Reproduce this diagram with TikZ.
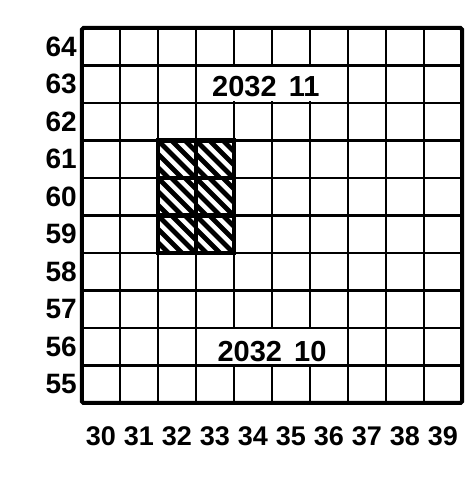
\documentclass[tikz,border=0pt]{standalone}
\usepackage{fontspec}
\setmainfont{Liberation Sans}
\usepackage{tikz}
\usetikzlibrary{calc}
\tikzset{
  gline/.style={draw=black,line width=2.6pt},
  gframe/.style={draw=black,line width=4pt,rounded corners=1.5pt},
  gblock/.style={draw=black,line width=4.4pt},
  hatch/.style={draw=black,line width=4.6pt},
  gblank/.style={fill=white,draw=none},
  rlabel/.style={anchor=east,inner sep=0pt,font=\bfseries\fontsize{28}{28}\selectfont},
  clabel/.style={inner sep=0pt,font=\bfseries\fontsize{27}{27}\selectfont},
  gnote/.style={inner sep=0pt,font=\bfseries\fontsize{29}{29}\selectfont}
}

\begin{document}
\begin{tikzpicture}[x=38pt,y=37.5pt]
  \useasboundingbox (-82pt,-80pt) rectangle (387pt,403pt);
  % hatched squares 32-33 / 59-61
  \foreach \c in {2,3}
    \foreach \r in {4,5,6} {
      \begin{scope}
        \clip ($(\c,\r)+(2pt,2pt)$) rectangle ($(\c+1,\r+1)-(2pt,2pt)$);
        \foreach \k in {-4,...,4}
          \draw[hatch] ($(\c,\r+1)+(\k*13.5pt,0)$) -- ++(45pt,-45pt);
      \end{scope}
    }
  % grid
  \foreach \i in {1,...,9} {
    \draw[gline] (\i,0) -- (\i,10);
    \draw[gline] (0,\i) -- (10,\i);
  }
  % strips for the two sheet numbers
  \fill[gblank] ($(3,8)+(1.5pt,1.5pt)$) rectangle ($(7,9)-(1.5pt,1.5pt)$);
  \fill[gblank] ($(3,1)+(1.5pt,1.5pt)$) rectangle ($(7,2)-(1.5pt,1.5pt)$);
  % block and frame
  \draw[gblock] (2,4) rectangle (4,7);
  \draw[gblock] (3,4) -- (3,7);
  \draw[gblock] (2,5) -- (4,5);
  \draw[gblock] (2,6) -- (4,6);
  \draw[gframe] (0,0) rectangle (10,10);
  % labels
  \foreach \n [count=\r from 0] in {55,...,64}
    \node[rlabel] (row\n) at ($(0,\r+0.5)+(-5pt,0)$) {\n};
  \foreach \n [count=\c from 0] in {30,...,39}
    \node[clabel] (col\n) at ($(\c+0.5,0)+(0,-33pt)$) {\n};
  \node[gnote] (sheet11) at (4.84,8.43) {2032\hspace{0.42em}11};
  \node[gnote] (sheet10) at (5.0,1.36) {2032\hspace{0.42em}10};
\end{tikzpicture}
\end{document}
